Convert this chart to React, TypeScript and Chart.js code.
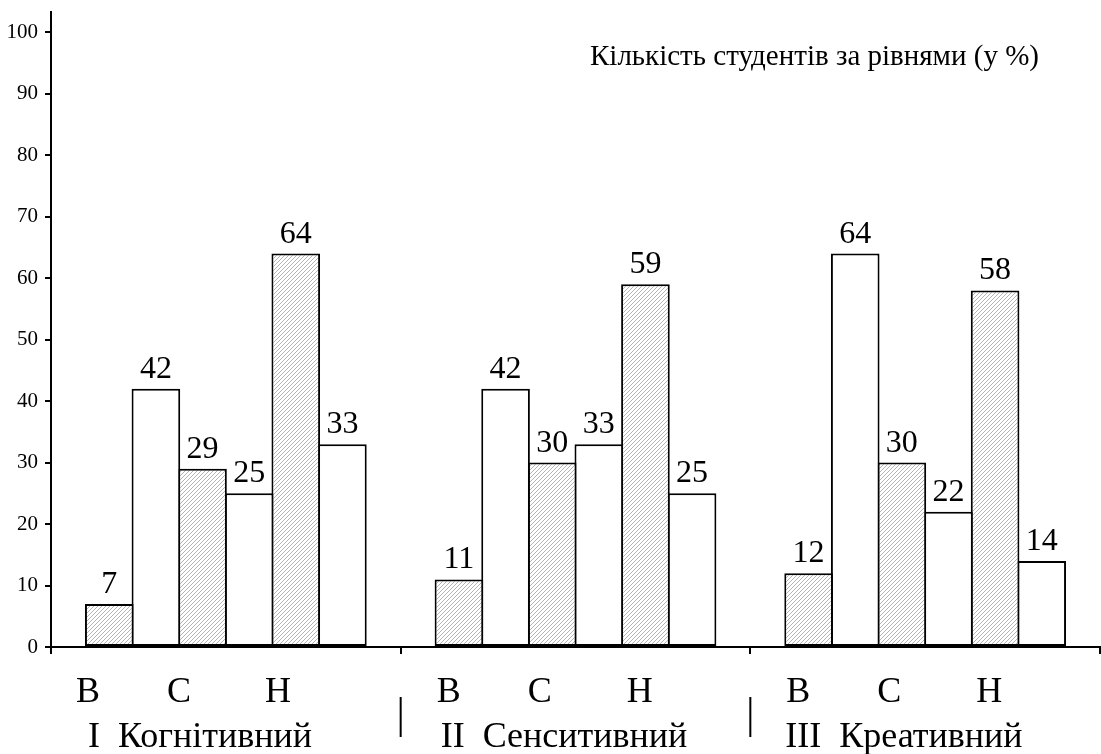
import React, { useEffect, useRef } from 'react';
import { Chart, registerables } from 'chart.js';

Chart.register(...registerables);

// ---- data ----
const components = ['I  Когнітивний', 'II  Сенситивний', 'III  Креативний'];
const levels = ['В', 'С', 'Н'];
const chartTitle = 'Кількість студентів за рівнями (у %)';
const highHatched = [7, 11, 12];
const highWhite = [42, 42, 64];
const midHatched = [29, 30, 30];
const midWhite = [25, 33, 22];
const lowHatched = [64, 59, 58];
const lowWhite = [33, 25, 14];
const yTicks = [0, 10, 20, 30, 40, 50, 60, 70, 80, 90, 100];

const FONT = '"Liberation Serif", "Times New Roman", serif';

function makeHatch(target: CanvasRenderingContext2D) {
  const s = 4;
  const c = document.createElement('canvas');
  c.width = s;
  c.height = s;
  const g = c.getContext('2d')!;
  g.fillStyle = '#ffffff';
  g.fillRect(0, 0, s, s);
  g.strokeStyle = '#b4b4b4';
  g.lineWidth = 1;
  g.beginPath();
  g.moveTo(0, s);
  g.lineTo(s, 0);
  g.moveTo(-s, s);
  g.lineTo(s, -s);
  g.moveTo(0, 2 * s);
  g.lineTo(2 * s, 0);
  g.stroke();
  return target.createPattern(c, 'repeat');
}

const annotate = {
  id: 'annotate',
  afterDatasetsDraw(chart: any) {
    const ctx: CanvasRenderingContext2D = chart.ctx;
    const xs = chart.scales.x;
    const area = chart.chartArea;
    ctx.save();
    ctx.fillStyle = '#000';
    ctx.textBaseline = 'alphabetic';

    // value labels
    ctx.textAlign = 'center';
    ctx.font = `32px ${FONT}`;
    chart.data.datasets.forEach((ds: any, di: number) => {
      const meta = chart.getDatasetMeta(di);
      meta.data.forEach((el: any, i: number) => {
        ctx.fillText(String(ds.data[i]), el.x, el.y - 11);
      });
    });

    // title
    ctx.textAlign = 'left';
    ctx.font = `29px ${FONT}`;
    ctx.fillText(chartTitle, area.left + 539, area.top + 53);

    // category labels
    const n = components.length;
    const catW = (xs.getPixelForValue(n - 1) - xs.getPixelForValue(0)) / (n - 1);
    const levelOffsets = [
      [37, 128, 227],
      [48, 139, 239],
      [48, 139, 239],
    ];
    const nameOffsets = [37, 40, 35];
    ctx.font = `36px ${FONT}`;
    for (let i = 0; i < n; i++) {
      const left = xs.getPixelForValue(i) - catW / 2;
      ctx.textAlign = 'center';
      levels.forEach((lv, j) => {
        ctx.fillText(lv, left + levelOffsets[i][j], area.bottom + 55);
      });
      ctx.textAlign = 'left';
      ctx.fillText(components[i], left + nameOffsets[i], area.bottom + 100);
      if (i > 0) {
        ctx.fillRect(left - 1, area.bottom + 50, 2, 40);
      }
    }
    ctx.restore();
  },
};

export default function App() {
  const ref = useRef<HTMLCanvasElement>(null);

  useEffect(() => {
    const canvas = ref.current!;
    const hatch = makeHatch(canvas.getContext('2d')!);
    const series = [
      { data: highHatched, fill: hatch },
      { data: highWhite, fill: '#ffffff' },
      { data: midHatched, fill: hatch },
      { data: midWhite, fill: '#ffffff' },
      { data: lowHatched, fill: hatch },
      { data: lowWhite, fill: '#ffffff' },
    ];
    const chart = new Chart(canvas, {
      type: 'bar',
      data: {
        labels: components,
        datasets: series.map((s) => ({
          data: s.data,
          backgroundColor: s.fill as any,
          borderColor: '#000',
          borderWidth: 2,
          borderSkipped: false,
          inflateAmount: 0,
          categoryPercentage: 0.8,
          barPercentage: 1.043,
        })),
      },
      options: {
        animation: false,
        responsive: true,
        maintainAspectRatio: false,
        layout: { padding: { top: 12, right: 1, left: 0, bottom: 0 } },
        plugins: {
          legend: { display: false },
          tooltip: { enabled: false },
          title: { display: false },
        },
        scales: {
          x: {
            type: 'category',
            offset: true,
            grid: {
              offset: true,
              display: true,
              drawOnChartArea: false,
              drawTicks: true,
              tickLength: 7,
              color: '#000',
              lineWidth: 2,
            },
            border: { display: true, color: '#000', width: 2 },
            ticks: { display: false },
            afterFit: (s: any) => {
              s.height = 107;
              s.paddingLeft = 0;
              s.paddingRight = 0;
            },
          },
          y: {
            type: 'linear',
            min: 0,
            max: 103.3,
            afterBuildTicks: (s: any) => {
              s.ticks = yTicks.map((v) => ({ value: v }));
            },
            ticks: {
              font: { family: FONT, size: 21 },
              color: '#000',
              padding: 7,
              autoSkip: false,
            },
            grid: {
              display: true,
              drawOnChartArea: false,
              drawTicks: true,
              tickLength: 6,
              color: '#000',
              lineWidth: 2,
            },
            border: { display: true, color: '#000', width: 2 },
            afterFit: (s: any) => {
              s.width = 51;
              s.paddingTop = 0;
              s.paddingBottom = 0;
            },
          },
        },
      } as any,
      plugins: [annotate],
    });
    return () => chart.destroy();
  }, []);

  return (
    <div style={{ position: 'absolute', left: 0, top: 0, width: 1101, height: 754, background: '#fff' }}>
      <canvas ref={ref} />
    </div>
  );
}
